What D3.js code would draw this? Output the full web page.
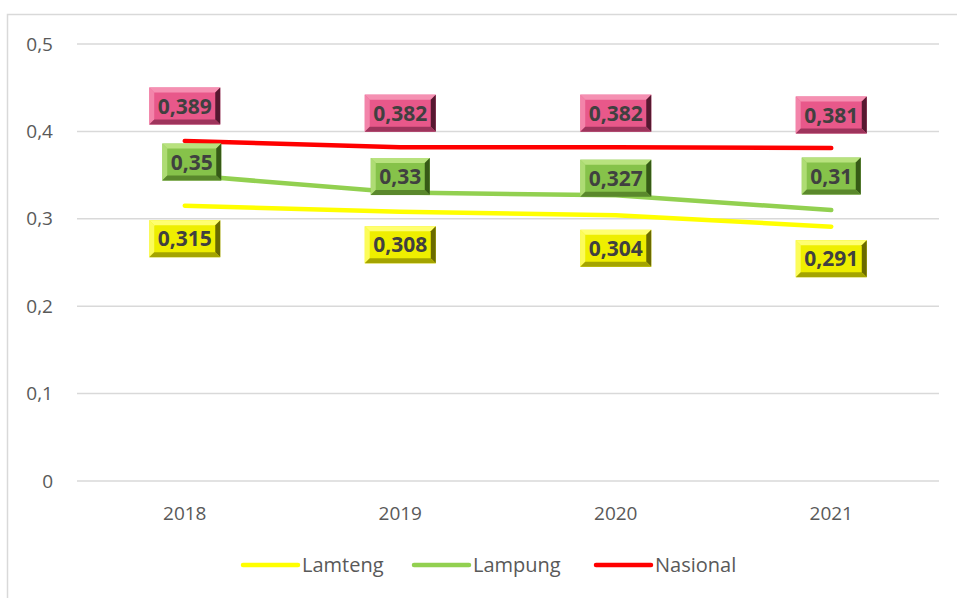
<!DOCTYPE html>
<html>
<head>
<meta charset="utf-8">
<script src="https://cdn.jsdelivr.net/npm/d3@7"></script>
<style>
  body { margin: 0; background: #fff; }
  text { font-family: "Open Sans", sans-serif; }
</style>
</head>
<body>
<div id="chart"></div>
<script>
// Data
const years = ["2018", "2019", "2020", "2021"];
const lamteng = [0.315, 0.308, 0.304, 0.291];
const lampung = [0.35, 0.33, 0.327, 0.31];
const nasional = [0.389, 0.382, 0.382, 0.381];
const yTicks = [0, 0.1, 0.2, 0.3, 0.4, 0.5];

const W = 957, H = 598;
const svg = d3.select("#chart").append("svg")
    .attr("width", W).attr("height", H);

// chart border
svg.append("rect")
    .attr("x", 7.5).attr("y", 14.5)
    .attr("width", W + 10).attr("height", H + 10)
    .attr("fill", "none").attr("stroke", "#d9d9d9").attr("stroke-width", 1.5);

const x = d3.scalePoint().domain(years).range([77, 939]).padding(0.5);
const y = d3.scaleLinear().domain([0, 0.5]).range([481, 44]);

const fmt = v => String(v).replace(".", ",");

// gridlines
svg.append("g").selectAll("line")
    .data(yTicks)
    .enter().append("line")
    .attr("x1", 77).attr("x2", 939)
    .attr("y1", d => y(d)).attr("y2", d => y(d))
    .attr("stroke", "#d9d9d9").attr("stroke-width", 1.5);

// y labels
svg.append("g").selectAll("text")
    .data(yTicks)
    .enter().append("text")
    .attr("x", 53).attr("y", d => y(d))
    .attr("dy", "0.35em")
    .attr("text-anchor", "end")
    .attr("font-size", 19).attr("fill", "#595959")
    .text(d => d === 0 ? "0" : fmt(d));

// x labels
svg.append("g").selectAll("text")
    .data(years)
    .enter().append("text")
    .attr("x", d => x(d)).attr("y", 513)
    .attr("dy", "0.35em")
    .attr("text-anchor", "middle")
    .attr("font-size", 19).attr("fill", "#595959")
    .text(d => d);

const series = [
    {name: "Lamteng", values: lamteng, color: "#ffff00",
     face: "#eeee00", light: "#ffff70", dark: "#6a6a00", side: "#a4a400",
     dy: [33, 33, 33, 32], dx: [0, 0, 0, 0]},
    {name: "Lampung", values: lampung, color: "#92d050",
     face: "#86c24a", light: "#b8e27e", dark: "#365a16", side: "#5a882c",
     dy: [-13, -16, -17, -34], dx: [7, 0, 0, 0]},
    {name: "Nasional", values: nasional, color: "#ff0000",
     face: "#e8588a", light: "#f590b2", dark: "#561830", side: "#9e345c",
     dy: [-35, -34, -34, -33], dx: [0, 0, 0, 0]}
];

const line = d3.line()
    .x((d, i) => x(years[i]))
    .y(d => y(d));

series.forEach(s => {
    svg.append("path")
        .datum(s.values)
        .attr("d", line)
        .attr("fill", "none")
        .attr("stroke", s.color)
        .attr("stroke-width", 4.5)
        .attr("stroke-linecap", "round")
        .attr("stroke-linejoin", "round");
});

// bevelled data labels
const b = 5;
series.forEach(s => {
    s.values.forEach((v, i) => {
        const cx = x(years[i]) + s.dx[i];
        const cy = y(v) + s.dy[i];
        const g = svg.append("g");
        const t = g.append("text")
            .attr("x", cx).attr("y", cy)
            .attr("dy", "0.36em")
            .attr("text-anchor", "middle")
            .attr("font-size", 21).attr("font-weight", "bold")
            .attr("fill", "#404040")
            .text(fmt(v));
        const tw = t.node().getComputedTextLength();
        const w = tw + 17, h = 37;
        const x0 = cx - w / 2, y0 = cy - h / 2, x1 = cx + w / 2, y1 = cy + h / 2;
        const poly = pts => pts.map(p => p.join(",")).join(" ");
        g.insert("rect", "text")
            .attr("x", x0).attr("y", y0).attr("width", w).attr("height", h)
            .attr("fill", s.face);
        g.insert("polygon", "text")
            .attr("points", poly([[x0, y0], [x1, y0], [x1 - b, y0 + b], [x0 + b, y0 + b]]))
            .attr("fill", s.light);
        g.insert("polygon", "text")
            .attr("points", poly([[x0, y0], [x0 + b, y0 + b], [x0 + b, y1 - b], [x0, y1]]))
            .attr("fill", s.light).attr("opacity", 0.8);
        g.insert("polygon", "text")
            .attr("points", poly([[x1, y0], [x1, y1], [x1 - b, y1 - b], [x1 - b, y0 + b]]))
            .attr("fill", s.dark);
        g.insert("polygon", "text")
            .attr("points", poly([[x0, y1], [x1, y1], [x1 - b, y1 - b], [x0 + b, y1 - b]]))
            .attr("fill", s.side);
    });
});

// legend
const legendX = [243, 414, 596];
series.forEach((s, i) => {
    svg.append("line")
        .attr("x1", legendX[i]).attr("x2", legendX[i] + 55)
        .attr("y1", 565).attr("y2", 565)
        .attr("stroke", s.color).attr("stroke-width", 4.5)
        .attr("stroke-linecap", "round");
    svg.append("text")
        .attr("x", legendX[i] + 59).attr("y", 565)
        .attr("dy", "0.35em")
        .attr("font-size", 20).attr("fill", "#595959")
        .text(s.name);
});
</script>
</body>
</html>
